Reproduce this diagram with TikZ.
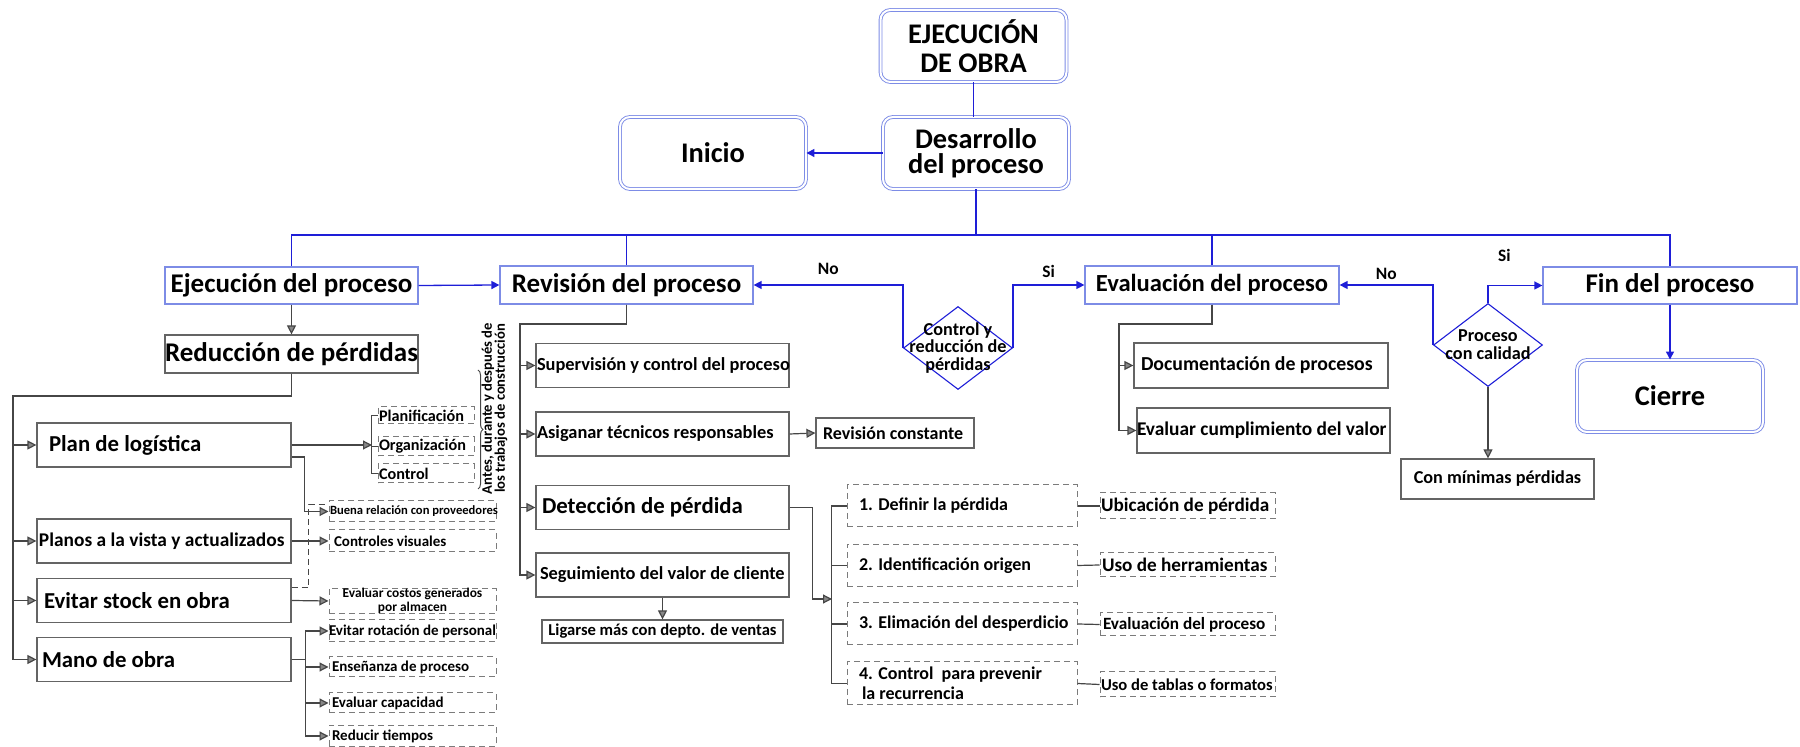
\documentclass[tikz,border=0pt]{standalone}
\usepackage{fontspec}
\setmainfont{Carlito}
\usetikzlibrary{arrows.meta,shapes.geometric,decorations.pathreplacing}

\definecolor{linblue}{RGB}{30,30,215}
\definecolor{boxblue}{RGB}{125,140,230}
\definecolor{lingray}{RGB}{70,70,70}
\definecolor{boxgray}{RGB}{100,100,100}

% box of given width (px), text flush left after an indent (px)
\newcommand\lt[3]{\makebox[\dimexpr#1pt/2\relax][l]{\hspace*{\dimexpr#2pt/2\relax}#3}}

\tikzset{
  sz/.style 2 args={minimum width=#1*0.5pt, minimum height=#2*0.5pt},
  f/.style={font=\bfseries\fontsize{#1}{#1}\selectfont},
  topbox/.style={draw=boxblue, double, line width=0.45pt, double distance=1pt, rounded corners=5pt, inner sep=0pt, align=center, f=14.2, sz={186}{72}},
  bbox/.style={draw=boxblue, line width=0.6pt, inner sep=0pt, f=13.5},
  gbox/.style={draw=boxgray, line width=0.6pt, inner sep=0pt},
  dbox/.style={draw=boxgray!85, dash pattern=on 3pt off 2pt, line width=0.5pt, inner sep=0pt},
  diam/.style={diamond, draw=linblue, line width=0.55pt, inner sep=0pt, sz={109}{83}},
  dtxt/.style={align=center, inner sep=0pt, font=\bfseries\fontsize{9.1}{8.6}\selectfont},
  lab/.style={f=8.7, inner sep=0pt},
  bl/.style={draw=linblue, line width=0.65pt},
  gl/.style={draw=lingray, line width=0.6pt},
  bar/.style={bl, -{Triangle[length=4pt,width=4pt]}},
  gar/.style={gl, -{Triangle[length=4.5pt,width=4.5pt,fill=lingray!65]}},
}

\begin{document}
\begin{tikzpicture}[x=0.5pt,y=-0.5pt]
\useasboundingbox (0,0) rectangle (1800,747);

%top level
\node[topbox] (obra) at (973.5,46) {EJECUCIÓN\\DE OBRA};
\node[topbox] (inicio) at (713,153) {Inicio};
\node[topbox, font=\bfseries\fontsize{14.2}{12.6}\selectfont] (desarrollo) at (976,153) {Desarrollo\\del proceso};
\node[topbox] (cierre) at (1670,396) {Cierre};

\node[bbox, sz={253}{37}] (ejec) at (291.5,285.5) {Ejecución del proceso};
\node[bbox, sz={253}{38}] (revision) at (626.5,285) {Revisión del proceso};
\node[bbox, sz={254}{38}, f=12.3] (evaluacion) at (1212,285) {Evaluación del proceso};
\node[bbox, sz={254}{37}] (fin) at (1670,285.5) {Fin del proceso};

\node[diam, label={[dtxt]center:Control y\\reducción de\\pérdidas}] (ctrl) at (958,348) {};
\node[diam, label={[dtxt, font=\bfseries\fontsize{9.1}{9}\selectfont]center:Proceso\\con calidad}] (calidad) at (1488,345) {};

%ejecucion branch
\node[gbox, sz={253}{38}, f=13.5] (reduccion) at (291.5,354) {Reducción de pérdidas};
\foreach \nm/\yy/\ii/\fz/\tx in {plan/445/12/11.4/Plan de logística, planos/541/2/9.7/Planos a la vista y actualizados, stock/600.5/7/11.4/Evitar stock en obra, mano/659.5/5/11.4/Mano de obra}
{
	\node[gbox, sz={254}{44}, f=\fz] (\nm) at (164,\yy) {\lt{254}{\ii}{\tx}};
}

\node[dbox, sz={96}{17}, f=8.1] (planif) at (426,415.5) {\lt{96}{1}{Planificación}};
\node[dbox, sz={96}{19}, f=8.1] (organiz) at (426,446.5) {\lt{96}{1}{Organización}};
\node[dbox, sz={96}{19}, f=8.1] (control) at (426,473.5) {\lt{96}{1}{Control}};
\node[dbox, sz={167}{21}, f=6.3] (buena) at (412.5,511.5) {\lt{167}{1}{Buena relación con proveedores}};
\node[dbox, sz={167}{22}, f=7.5] (visuales) at (412.5,541) {\lt{167}{5}{Controles visuales}};
\node[dbox, sz={167}{22}, align=center, font=\bfseries\fontsize{6.7}{5.6}\selectfont] (costos) at (412.5,601) {Evaluar costos generados\\por almacen};
\foreach \nm/\yy/\hh/\ii/\tx in {rotacion/631/22/0/Evitar rotación de personal, ensenanza/667/20/3/Enseñanza de proceso, capacidad/703/20/3/Evaluar capacidad, reducir/736/21/3/Reducir tiempos}
{
	\node[dbox, sz={167}{\hh}, f=7.5] (\nm) at (412.5,\yy) {\lt{167}{\ii}{\tx}};
}

\node[rotate=90, align=center, inner sep=0pt, font=\bfseries\fontsize{7.3}{6.5}\selectfont] (antes) at (494.5,408.5) {Antes, durante y después de\\los trabajos de construcción};
\draw[gl, line width=0.5pt, decorate, decoration={brace, amplitude=2.5pt}] (478,370) -- (478,489);

%revision branch
\foreach \nm/\yy/\ii/\fz/\tx in {superv/365.5/1/9.2/Supervisión y control del proceso, asig/434/1/9.2/Asiganar técnicos responsables, detec/507.5/6/11.4/Detección de pérdida, segui/575/4/9.2/Seguimiento del valor de cliente}
{
	\node[gbox, sz={253}{44}, f=\fz] (\nm) at (662.5,\yy) {\lt{253}{\ii}{\tx}};
}
\node[gbox, sz={241}{23}, f=8.3] (ligarse) at (662.5,631.5) {Ligarse más con depto. de ventas};
\node[gbox, sz={158}{30}, f=9] (revcons) at (895,433) {\lt{158}{7}{Revisión constante}};

\foreach \nm/\yy/\tx in {def1/506/1. Definir la pérdida, def2/565.5/2. Identificación origen, def3/624/3. Elimación del desperdicio}
{
	\node[dbox, sz={230}{42}, f=9] (\nm) at (962,\yy) {\lt{230}{12}{\tx}};
}
\node[dbox, sz={230}{43}, align=left, font=\bfseries\fontsize{9}{10}\selectfont] (def4) at (962,683.5) {\lt{230}{12}{4. Control\ \ para prevenir}\\\lt{230}{15}{la recurrencia}};

\foreach \nm/\yy/\hh/\ii/\fz/\tx in {ubic/506/26/1/9.6/Ubicación de pérdida, herr/565/24/2/9.6/Uso de herramientas, evalp/624.5/23/3/8.6/Evaluación del proceso, tablas/684.5/25/1/8.3/Uso de tablas o formatos}
{
	\node[dbox, sz={175}{\hh}, f=\fz] (\nm) at (1187.5,\yy) {\lt{175}{\ii}{\tx}};
}

%evaluacion branch
\node[gbox, sz={254}{45}, f=9.9] (docu) at (1261,365.5) {\lt{254}{7}{Documentación de procesos}};
\node[gbox, sz={253}{45}, f=9.7] (evalcum) at (1263.5,430.5) {\lt{253}{0}{Evaluar cumplimiento del valor}};
\node[gbox, sz={193}{40}, f=9.1] (conmin) at (1497.5,479) {Con mínimas pérdidas};

%blue flow
\coordinate (bus) at (976,235);
\draw[bl] (obra.south) -- (obra.south |- desarrollo.north);
\draw[bar] (desarrollo.west) -- (inicio.east);
\draw[bl] (desarrollo.south) -- (bus);
\draw[bl] (ejec.north) |- (bus) -| (fin.north);
\draw[bl] (revision.north) -- (revision.north |- bus);
\draw[bl] (evaluacion.north) -- (evaluacion.north |- bus);
\draw[bar] (ejec.east) -- (revision.west);
\draw[bar] (ctrl.west) |- node[lab, pos=.75, above=5pt] (no1) {No} (revision.east);
\draw[bar] (ctrl.east) |- node[lab, pos=.75, above=3.5pt] (si1) {Si} (evaluacion.west);
\draw[bar] (calidad.west) |- node[lab, pos=.75, above=2.2pt] (no2) {No} (evaluacion.east);
\draw[bar] (calidad.north) |- node[lab, pos=.65, above=11.4pt] (si2) {Si} (fin.west);
\draw[bar] (fin.south) -- (cierre.north);

%gray connectors
\coordinate (lv) at (13,396);
\coordinate (pb) at (372,446);
\coordinate (rv) at (520,324);
\coordinate (db) at (832,599);
\coordinate (ev) at (1119,324);

\draw[gar] (ejec.south) -- (reduccion.north);
\foreach \nm in {plan,planos,stock,mano}
{
	\draw[gar] (reduccion.south) |- (lv) |- (\nm.west);
}
\draw[gar] (plan.east) -- (plan.east -| pb);
\draw[gl] (planif.west) -- ++(-6,0) |- (control.west);
\draw[gl] (organiz.west) -- ++(-6,0);
\draw[gar] ([yshift=-6pt]plan.east) -- ++(13,0) |- (buena.west);
\draw[gl, dash pattern=on 3pt off 2pt, line width=0.5pt] ([yshift=6.25pt]stock.east) -- ++(17,0) |- ([yshift=3.25pt]buena.west);
\draw[gar] (planos.east) -- (visuales.west);
\draw[gar] (stock.east) -- (costos.west);
\foreach \nm in {rotacion,ensenanza,capacidad,reducir}
{
	\draw[gar] (mano.east) -- ++(14,0) |- (\nm.west);
}

\foreach \nm in {superv,asig,detec,segui}
{
	\draw[gar] (revision.south) |- (rv) |- (\nm.west);
}
\draw[gar] (asig.east) -- (revcons.west);
\draw[gar] (segui.south) -- (ligarse.north);
\draw[gar] (detec.east) -- ++(23,0) |- (db);
\draw[gl] (def1.west) -- ++(-15,0) |- (def4.west);
\draw[gl] (def2.west) -- ++(-15,0);
\draw[gl] (def3.west) -- ++(-15,0);
\foreach \aa/\bb in {def1/ubic, def2/herr, def3/evalp, def4/tablas}
{
	\draw[gl] (\aa.east) -- (\bb.west);
}

\foreach \nm in {docu,evalcum}
{
	\draw[gar] (evaluacion.south) |- (ev) |- (\nm.west);
}
\draw[gar] (calidad.south) -- (calidad.south |- conmin.north);
\end{tikzpicture}
\end{document}
